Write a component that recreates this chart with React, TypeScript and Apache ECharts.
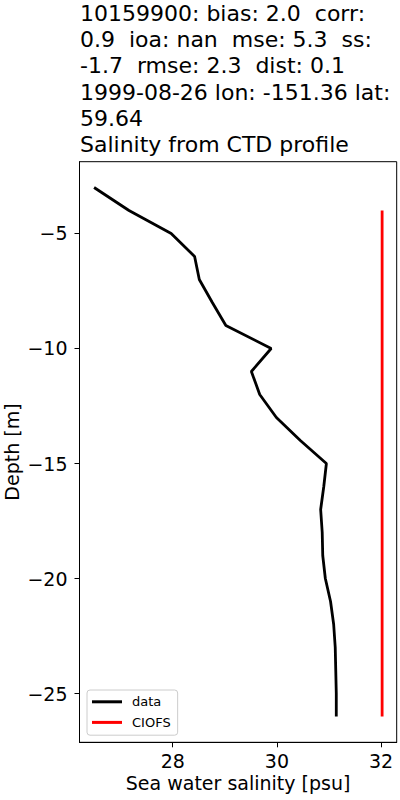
import React, { useEffect, useRef } from "react";
import * as echarts from "echarts";

const titleLines = [
  "10159900: bias: 2.0  corr:",
  "0.9  ioa: nan  mse: 5.3  ss:",
  "-1.7  rmse: 2.3  dist: 0.1",
  "1999-08-26 lon: -151.36 lat:",
  "59.64",
  "Salinity from CTD profile",
];

const dataDepth = [-3, -4, -5, -6, -7, -8, -9, -10, -11, -12, -13, -14, -15, -16, -17, -18, -19, -20, -21, -22, -23, -24, -25, -26];
const dataSalinity = [26.49, 27.16, 27.97, 28.42, 28.51, 28.76, 29.02, 29.89, 29.51, 29.67, 29.99, 30.45, 30.95, 30.9, 30.84, 30.87, 30.88, 30.93, 31.03, 31.09, 31.12, 31.13, 31.14, 31.14];

const modelDepth = [-4, -5, -6, -7, -8, -9, -10, -11, -12, -13, -14, -15, -16, -17, -18, -19, -20, -21, -22, -23, -24, -25, -26];
const modelSalinity = [32.02, 32.02, 32.02, 32.02, 32.02, 32.02, 32.02, 32.02, 32.02, 32.02, 32.02, 32.02, 32.02, 32.02, 32.02, 32.02, 32.02, 32.02, 32.02, 32.02, 32.02, 32.02, 32.02];

const xTicks = [28, 30, 32];
const yTicks = [-5, -10, -15, -20, -25];

const FONT = "DejaVu Sans";

export default function App() {
  const ref = useRef<HTMLDivElement>(null);
  useEffect(() => {
    if (!ref.current) return;
    const chart = echarts.init(ref.current, undefined, { renderer: "svg" });
    chart.setOption({
      animation: false,
      backgroundColor: "#fff",
      title: {
        text: titleLines.join("\n"),
        left: 80,
        top: 0,
        padding: 0,
        textStyle: {
          fontFamily: FONT,
          fontSize: 22,
          lineHeight: 26.3,
          fontWeight: "normal",
          color: "#000",
        },
      },
      grid: {
        left: 79.5,
        right: 3.3,
        top: 161.7,
        bottom: 57.7,
        containLabel: false,
        outerBoundsMode: "none",
        show: true,
        borderColor: "#000",
        borderWidth: 1,
        backgroundColor: "transparent",
      },
      legend: {
        orient: "vertical",
        left: 87,
        top: 690,
        padding: [4, 7, 5, 5],
        itemGap: 5,
        itemWidth: 30,
        itemHeight: 3,
        icon: "rect",
        borderColor: "#ccc",
        borderWidth: 1,
        borderRadius: 3,
        backgroundColor: "rgba(255,255,255,0.8)",
        textStyle: { fontFamily: FONT, fontSize: 13, color: "#000", lineHeight: 15.6, padding: [0, 0, 0, 5] },
        data: ["data", "CIOFS"],
      },
      xAxis: {
        type: "value",
        min: 26.21,
        max: 32.3,
        name: "Sea water salinity [psu]",
        nameLocation: "middle",
        nameGap: 31,
        nameMoveOverlap: false,
        nameTextStyle: { fontFamily: FONT, fontSize: 19, color: "#000" },
        axisLine: { show: true, lineStyle: { color: "#000", width: 1 } },
        axisTick: { show: true, length: 5, lineStyle: { color: "#000" }, customValues: xTicks },
        axisLabel: { fontFamily: FONT, fontSize: 19, color: "#000", margin: 9, customValues: xTicks },
        splitLine: { show: false },
      },
      yAxis: {
        type: "value",
        min: -27.12,
        max: -1.88,
        name: "Depth [m]",
        nameLocation: "middle",
        nameGap: 58,
        nameMoveOverlap: false,
        nameTextStyle: { fontFamily: FONT, fontSize: 19, color: "#000" },
        axisLine: { show: true, lineStyle: { color: "#000", width: 1 } },
        axisTick: { show: true, length: 5, lineStyle: { color: "#000" }, customValues: yTicks },
        axisLabel: {
          fontFamily: FONT,
          fontSize: 19,
          color: "#000",
          margin: 12,
          customValues: yTicks,
          formatter: (v: number) => (v < 0 ? "\u2212" + Math.abs(v) : String(v)),
        },
        splitLine: { show: false },
      },
      series: [
        {
          name: "data",
          type: "line",
          data: dataSalinity.map((s, i) => [s, dataDepth[i]]),
          symbol: "none",
          color: "#000",
          lineStyle: { color: "#000", width: 2.8 },
        },
        {
          name: "CIOFS",
          type: "line",
          data: modelSalinity.map((s, i) => [s, modelDepth[i]]),
          symbol: "none",
          color: "#ff0000",
          lineStyle: { color: "#ff0000", width: 2.8 },
        },
      ],
    });
    return () => chart.dispose();
  }, []);
  return <div ref={ref} style={{ width: 400, height: 800, position: "absolute", left: 0, top: 0 }} />;
}
